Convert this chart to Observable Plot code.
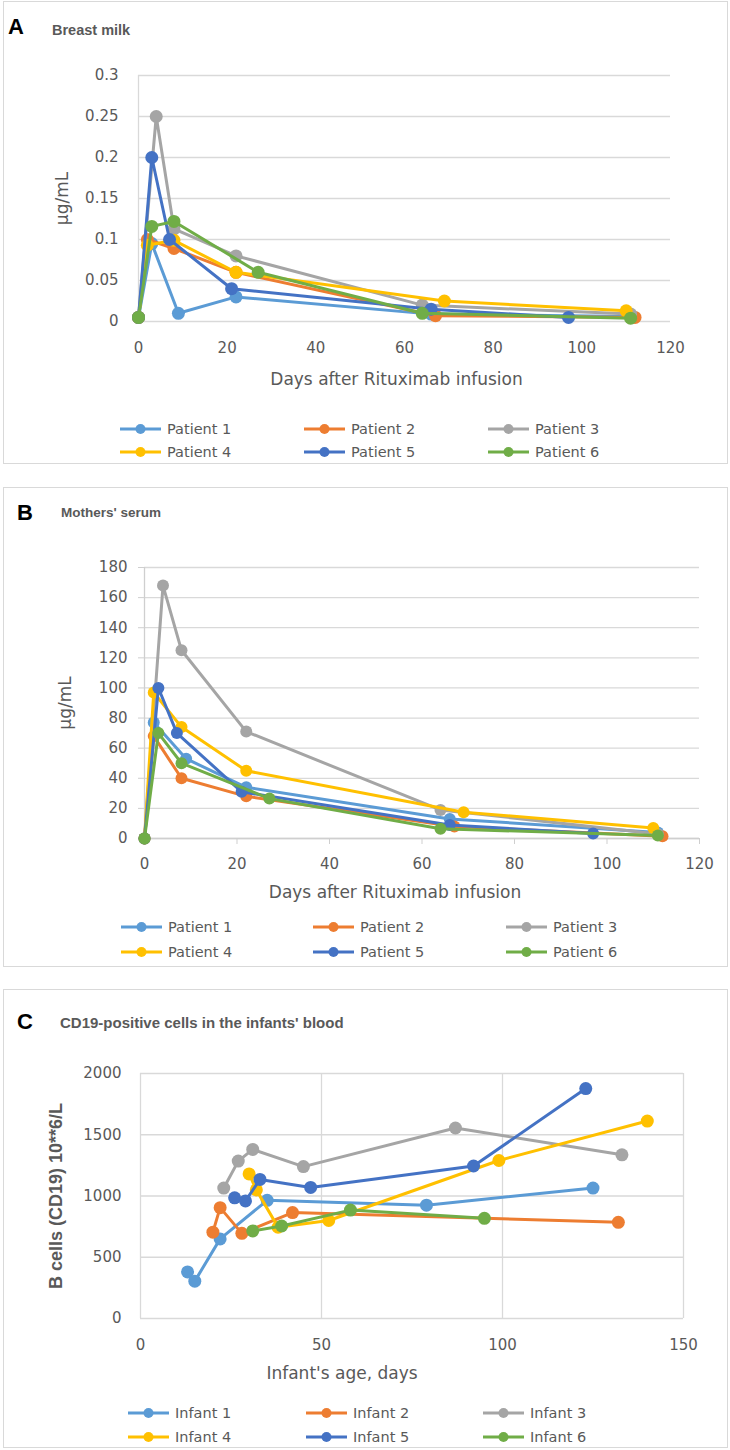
<!DOCTYPE html>
<html><head><meta charset="utf-8">
<script src="https://cdn.jsdelivr.net/npm/d3@7"></script>
<script src="https://cdn.jsdelivr.net/npm/@observablehq/plot@0.6"></script>
<style>
body{margin:0;background:#fff;}
#page{position:relative;width:730px;height:1450px;overflow:hidden;background:#fff;}
.box{position:absolute;border:1px solid #d9d9d9;box-sizing:border-box;}
.letter{position:absolute;font:bold 22px "Liberation Sans",Arial,sans-serif;color:#000;line-height:1;transform:translateY(-50%);}
.title{position:absolute;font-weight:bold;font-family:"Liberation Sans",Arial,sans-serif;color:#595959;line-height:1;transform:translateY(-50%);white-space:nowrap;}
.plot{position:absolute;left:0;}
.leg{position:absolute;display:flex;align-items:center;font:14.5px "DejaVu Sans",sans-serif;color:#595959;white-space:nowrap;transform:translateY(-50%);}
.leg svg{display:block;margin-right:5px;}
</style></head>
<body><div id="page"></div>
<script>
// ---------- data ----------
const patients = ["Patient 1","Patient 2","Patient 3","Patient 4","Patient 5","Patient 6"];
const infants = ["Infant 1","Infant 2","Infant 3","Infant 4","Infant 5","Infant 6"];
const seriesColors = ["#5B9BD5","#ED7D31","#A5A5A5","#FFC000","#4472C4","#70AD47"];

// A: Breast milk (µg/mL)
const milkDays = [
  [0,3,9,22,66,111],
  [0,2,8,22,67,112],
  [0,4,8,22,64,111],
  [0,2,8,22,69,110],
  [0,3,7,21,66,97],
  [0,3,8,27,64,111]
];
const milkValues = [
  [0.005,0.095,0.01,0.03,0.009,0.006],
  [0.005,0.1,0.089,0.06,0.007,0.005],
  [0.005,0.25,0.113,0.08,0.02,0.009],
  [0.005,0.093,0.099,0.06,0.025,0.013],
  [0.005,0.2,0.1,0.04,0.015,0.005],
  [0.005,0.116,0.122,0.06,0.01,0.004]
];

// B: Mothers' serum (µg/mL)
const serumDays = [
  [0,2,9,22,66,111],
  [0,2,8,22,67,112],
  [0,4,8,22,64,111],
  [0,2,8,22,69,110],
  [0,3,7,21,66,97],
  [0,3,8,27,64,111]
];
const serumValues = [
  [0,77,53,34,13,4],
  [0,68,40,28,8,1.5],
  [0,168,125,71,19,3],
  [0,97,74,45,17.5,7],
  [0,100,70,31,9,3.3],
  [0,70,50,26.5,6.5,2]
];

// C: CD19-positive cells (10**6/L) vs infant's age (days)
const cd19Days = [
  [13,15,22,35,79,125],
  [20,22,28,42,132],
  [23,27,31,45,87,133],
  [30,32,38,52,99,140],
  [26,29,33,47,92,123],
  [31,39,58,95]
];
const cd19Values = [
  [380,305,650,965,925,1065],
  [705,905,695,865,785],
  [1065,1285,1380,1240,1555,1336],
  [1180,1050,745,800,1290,1612],
  [985,960,1135,1070,1245,1877],
  [715,755,885,818]
];

// ticks
const daysTicks = [0,20,40,60,80,100,120];
const milkTicks = [0,0.05,0.1,0.15,0.2,0.25,0.3];
const serumTicks = [0,20,40,60,80,100,120,140,160,180];
const ageTicks = [0,50,100,150];
const cd19Ticks = [0,500,1000,1500,2000];

// ---------- helpers ----------
const page = document.getElementById("page");
function el(tag, cls, css, html){
  const e = document.createElement(tag);
  if (cls) e.className = cls;
  Object.assign(e.style, css || {});
  if (html != null) e.textContent = html;
  page.appendChild(e);
  return e;
}
function rows(names, days, values){
  return names.flatMap((n,i)=> days[i].map((d,j)=>({series:n, x:d, y:values[i][j]})));
}
function seriesMarks(names, data, r){
  return names.flatMap(n => {
    const s = data.filter(d => d.series === n);
    return [
      Plot.line(s, {x:"x", y:"y", stroke:"series", strokeWidth:3, strokeLinejoin:"round", strokeLinecap:"round"}),
      Plot.dot(s, {x:"x", y:"y", fill:"series", r})
    ];
  });
}
function legend(names, cols, rowsY){
  names.forEach((n,i)=>{
    const c = i % 3, rr = Math.floor(i/3);
    const d = el("div","leg",{left: cols[c]+"px", top: rowsY[rr]+"px"});
    d.innerHTML = `<svg width="43" height="12"><line x1="1" x2="42" y1="6" y2="6" stroke="${seriesColors[i]}" stroke-width="3"/><circle cx="21.5" cy="6" r="5" fill="${seriesColors[i]}"/></svg><span>${n}</span>`;
  });
}
function xTitle(label, dy, dx){
  return Plot.text([label], {text:d=>d, frameAnchor:"bottom", textAnchor:"middle", lineAnchor:"middle", dy, dx, fontSize:17, fill:txt});
}
function yTitle(label, dx, extra){
  return Plot.text([label], {text:d=>d, frameAnchor:"left", textAnchor:"middle", lineAnchor:"middle", rotate:-90, dx, fontSize:17, fill:txt, ...(extra||{})});
}
const grid = "#d9d9d9";
const axisLine = "#cfcfcf";
const txt = "#595959";

// ---------- boxes & titles ----------
el("div","box",{left:"3px",top:"1px",width:"725px",height:"463px"});
el("div","box",{left:"3px",top:"487px",width:"725px",height:"480px"});
el("div","box",{left:"3px",top:"989px",width:"725px",height:"459px"});
el("div","letter",{left:"8px",top:"27px"},"A");
el("div","title",{left:"52px",top:"30px",fontSize:"14.5px"},"Breast milk");
el("div","letter",{left:"17px",top:"513px"},"B");
el("div","title",{left:"61px",top:"513px",fontSize:"13.5px"},"Mothers' serum");
el("div","letter",{left:"17px",top:"1022px"},"C");
el("div","title",{left:"60px",top:"1022px",fontSize:"15px"},"CD19-positive cells in the infants' blood");

const baseStyle = {fontFamily:"DejaVu Sans, sans-serif", fontSize:"15px", color:txt, background:"transparent", overflow:"visible"};

// ---------- Panel A ----------
const dataA = rows(patients, milkDays, milkValues);
const plotA = Plot.plot({
  width:730, height:356, marginLeft:138, marginRight:60, marginTop:35, marginBottom:75,
  style: baseStyle,
  x:{domain:[0,120]}, y:{domain:[0,0.3]},
  color:{domain:patients, range:seriesColors},
  marks:[
    Plot.gridY(milkTicks, {stroke:grid, strokeOpacity:1, strokeWidth:1.3}),
    Plot.ruleX([0], {stroke:grid, strokeWidth:1.3}),
    Plot.axisX(daysTicks, {tickSize:0, tickPadding:21, tickFormat:d=>String(d), label:null}),
    Plot.axisY(milkTicks, {tickSize:0, tickPadding:20, tickFormat:d=>String(d), label:null}),
    xTitle("Days after Rituximab infusion", 58, -8),
    yTitle("µg/mL", -76),
    ...seriesMarks(patients, dataA, 6.5)
  ]
});
el("div","plot",{top:"40px"}).appendChild(plotA);
legend(patients, [119,303,487], [429,452]);

// ---------- Panel B ----------
const dataB = rows(patients, serumDays, serumValues);
const plotB = Plot.plot({
  width:730, height:378, marginLeft:144, marginRight:31, marginTop:37, marginBottom:70,
  style: baseStyle,
  x:{domain:[0,120]}, y:{domain:[0,180]},
  color:{domain:patients, range:seriesColors},
  marks:[
    Plot.gridY(serumTicks, {stroke:grid, strokeOpacity:1, strokeWidth:1.3}),
    Plot.ruleX([0], {stroke:axisLine, strokeWidth:1.3}),
    Plot.ruleY([0], {stroke:axisLine, strokeWidth:1.3}),
    Plot.axisX(daysTicks, {tickSize:6, tickPadding:14, stroke:axisLine, tickFormat:d=>String(d), label:null}),
    Plot.axisY(serumTicks, {tickSize:6, tickPadding:11, stroke:axisLine, tickFormat:d=>String(d), label:null}),
    xTitle("Days after Rituximab infusion", 54, -27),
    yTitle("µg/mL", -79),
    ...seriesMarks(patients, dataB, 6)
  ]
});
el("div","plot",{top:"530px"}).appendChild(plotB);
legend(patients, [120,312,505], [927,952]);

// ---------- Panel C ----------
const dataC = rows(infants, cd19Days, cd19Values);
const plotC = Plot.plot({
  width:730, height:348, marginLeft:140, marginRight:47, marginTop:33, marginBottom:70,
  style: baseStyle,
  x:{domain:[0,150]}, y:{domain:[0,2000]},
  color:{domain:infants, range:seriesColors},
  marks:[
    Plot.gridY(cd19Ticks, {stroke:grid, strokeOpacity:1, strokeWidth:1.3}),
    Plot.gridX(ageTicks, {stroke:grid, strokeOpacity:1, strokeWidth:1.3}),
    Plot.axisX(ageTicks, {tickSize:0, tickPadding:21, tickFormat:d=>String(d), label:null}),
    Plot.axisY(cd19Ticks, {tickSize:0, tickPadding:19, tickFormat:d=>String(d), label:null}),
    xTitle("Infant's age, days", 55, -70),
    yTitle("B cells (CD19) 10**6/L", -84, {fontSize:18, fontWeight:"bold"}),
    ...seriesMarks(infants, dataC, 6.5)
  ]
});
el("div","plot",{top:"1040px"}).appendChild(plotC);
plotC.querySelectorAll("text").forEach(t => {
  if (t.textContent === "B cells (CD19) 10**6/L") {
    t.style.fontFamily = '"Liberation Sans", Arial, sans-serif';
    t.style.fontSize = "18px";
    t.style.fontWeight = "bold";
  }
});
legend(infants, [127,305,482], [1413,1437]);
</script>
</body></html>
